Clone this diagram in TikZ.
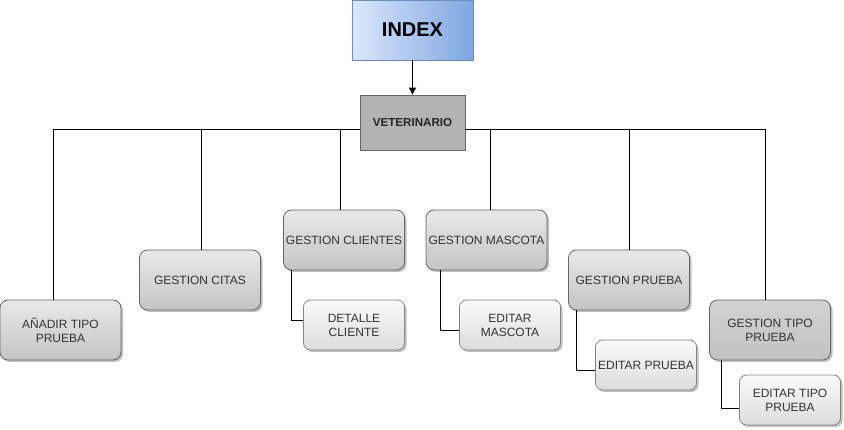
\documentclass[tikz,border=0pt]{standalone}
\usepackage{fontspec}
\setmainfont{Liberation Sans}
\usetikzlibrary{shadows,arrows.meta}
\definecolor{txt}{HTML}{333333}
\definecolor{bord}{HTML}{666666}
\definecolor{idxl}{HTML}{DAE8FC}
\definecolor{idxr}{HTML}{7EA6E0}
\definecolor{idxb}{HTML}{6C8EBF}
\definecolor{vetf}{HTML}{B3B3B3}
\definecolor{mtop}{HTML}{E9E9E9}
\definecolor{mbot}{HTML}{C4C4C4}
\definecolor{stop}{HTML}{FAFAFA}
\definecolor{sbot}{HTML}{DCDCDC}
\definecolor{ttop}{HTML}{D2D2D2}
\definecolor{tbot}{HTML}{C2C2C2}
\tikzset{
  every node/.style={inner sep=0pt, align=center, text=txt,
    font=\fontsize{12}{14}\selectfont},
  boxshadow/.style={drop shadow={shadow xshift=2pt, shadow yshift=-2pt, fill=black, opacity=0.25}},
  mainbox/.style={draw=bord, line width=0.8pt, rounded corners=8pt, top color=mtop, bottom color=mbot,
    minimum width=121pt, minimum height=60pt, boxshadow},
  tipobox/.style={mainbox, top color=ttop, bottom color=tbot},
  subbox/.style={draw=bord!80, line width=0.8pt, rounded corners=7pt, top color=stop, bottom color=sbot,
    minimum width=101pt, minimum height=50pt, boxshadow},
  conn/.style={draw=black, line width=0.9pt},
}
\begin{document}
\begin{tikzpicture}[x=1pt,y=-1pt]
\useasboundingbox (0,0) rectangle (844,430);
\node[draw=idxb, line width=0.8pt, left color=idxl, right color=idxr, minimum width=121pt, minimum height=60pt,
  text=black, font=\fontsize{20}{24}\selectfont\bfseries] (index) at (412.5,30) {INDEX};
\node[draw=bord, line width=0.8pt, fill=vetf, minimum width=105pt, minimum height=55pt,
  text=black!85, font=\fontsize{11.6}{13}\selectfont\bfseries] (vet) at (412.5,122.5) {VETERINARIO};

\node[mainbox] (anadir) at (60.5,330) {AÑADIR TIPO\\PRUEBA};
\node[mainbox] (citas) at (200,280) {GESTION CITAS};
\node[mainbox] (clientes) at (344,240) {GESTION CLIENTES};
\node[mainbox] (mascota) at (486.5,240) {GESTION MASCOTA};
\node[mainbox] (prueba) at (629,280) {GESTION PRUEBA};
\node[tipobox] (tipo) at (770,330) {GESTION TIPO\\PRUEBA};

\node[subbox] (detalle) at (354,325) {DETALLE\\CLIENTE};
\node[subbox] (emascota) at (510,325) {EDITAR\\MASCOTA};
\node[subbox] (eprueba) at (646,365) {EDITAR PRUEBA};
\node[subbox] (etipo) at (790,400) {EDITAR TIPO\\PRUEBA};

\draw[conn, -{Triangle[length=7pt,width=7pt]}] (index.south) -- (vet.north);

\draw[conn] ([yshift=-6.5pt]vet.west) -| ([xshift=-7.5pt]anadir.north);
\draw[conn] ([yshift=-6.5pt]vet.west) -| ([xshift=1pt]citas.north);
\draw[conn] ([yshift=-6.5pt]vet.west) -| ([xshift=-4pt]clientes.north);
\draw[conn] ([yshift=-6.5pt]vet.east) -| ([xshift=3.5pt]mascota.north);
\draw[conn] ([yshift=-6.5pt]vet.east) -| (prueba.north);
\draw[conn] ([yshift=-6.5pt]vet.east) -| ([xshift=-5pt]tipo.north);

\draw[conn] ([xshift=-53pt]clientes.south) |- ([yshift=5pt]detalle.west);
\draw[conn] ([xshift=-46.5pt]mascota.south) |- ([yshift=-5pt]emascota.west);
\draw[conn] ([xshift=-53pt]prueba.south) |- ([yshift=-5pt]eprueba.west);
\draw[conn] ([xshift=-49pt]tipo.south) |- ([yshift=-8pt]etipo.west);
\end{tikzpicture}
\end{document}
